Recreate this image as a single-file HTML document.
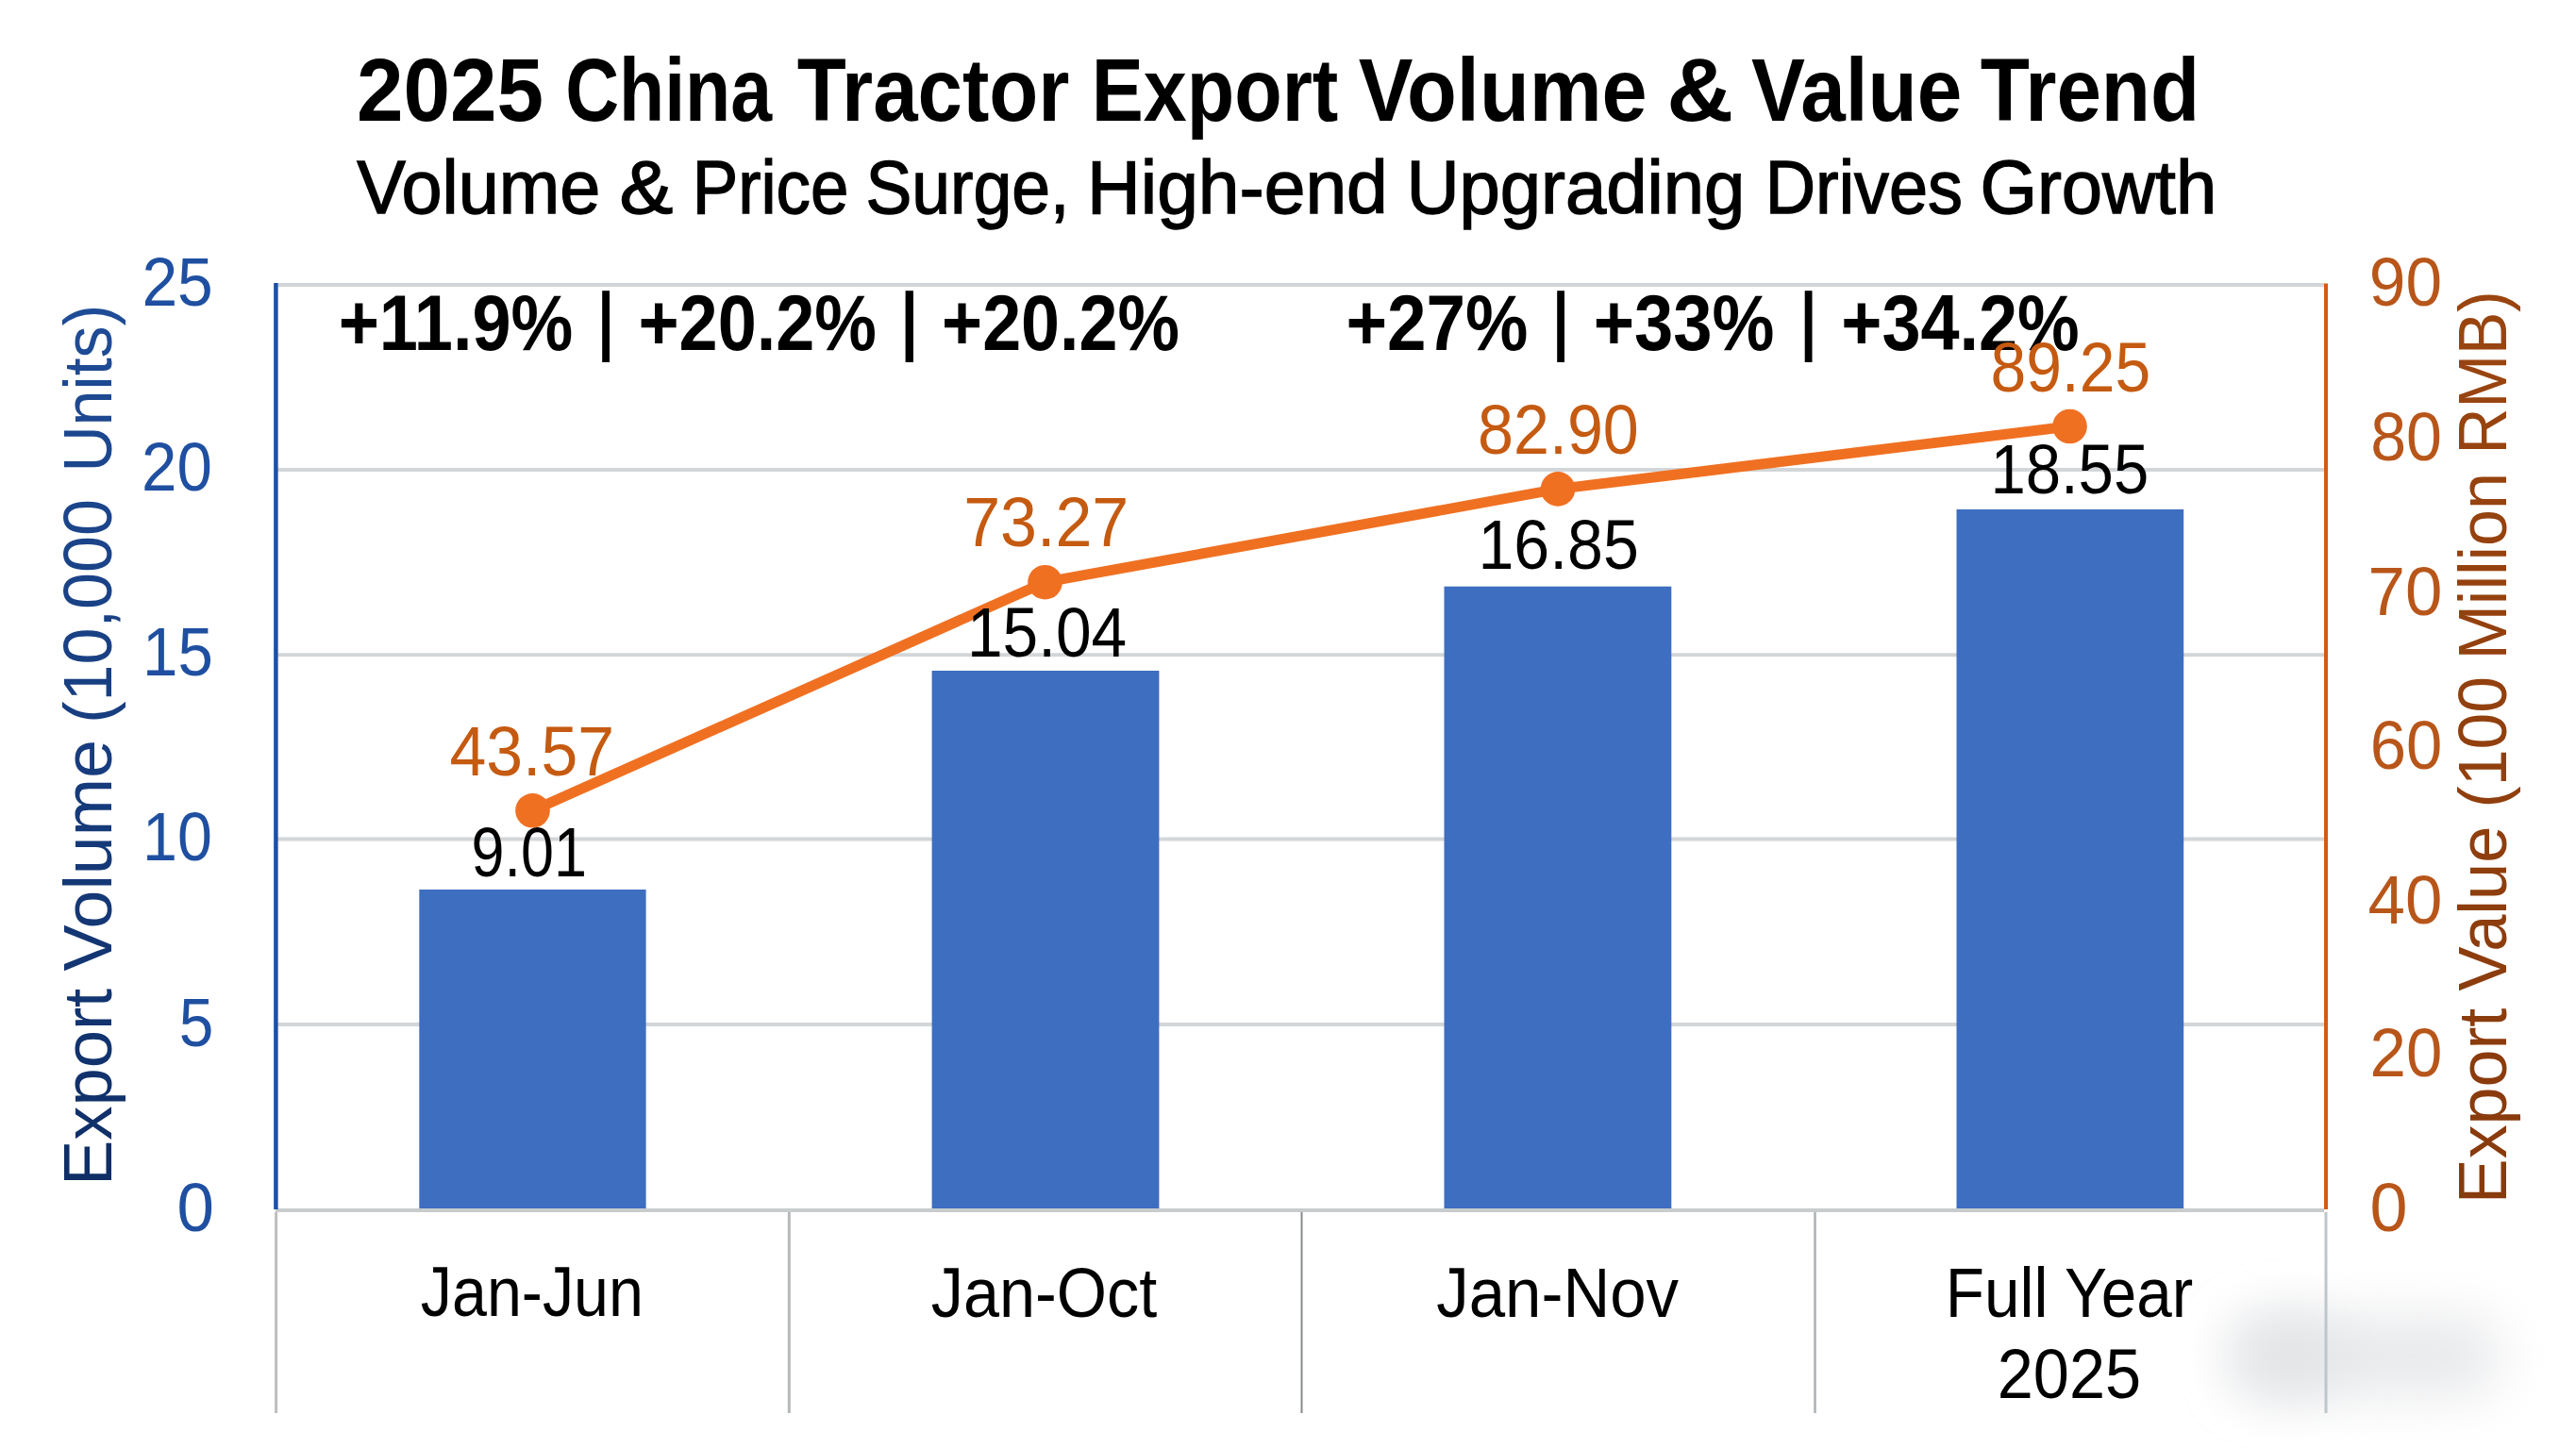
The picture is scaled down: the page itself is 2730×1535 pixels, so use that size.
<!DOCTYPE html>
<html><head><meta charset="utf-8">
<style>
html,body{margin:0;padding:0;background:#fff;}
body{width:2730px;height:1535px;overflow:hidden;position:relative;font-family:"Liberation Sans",sans-serif;}
svg{position:absolute;left:0;top:0;}
text{font-family:"Liberation Sans",sans-serif;}
</style></head><body>
<svg width="2730" height="1535" viewBox="0 0 2730 1535">
<defs>
  <linearGradient id="lt" gradientUnits="userSpaceOnUse" x1="-1250" y1="0" x2="-327" y2="0">
    <stop offset="0" stop-color="#0f2e66"/><stop offset="1" stop-color="#1f4c96"/>
  </linearGradient>
  <linearGradient id="rt" gradientUnits="userSpaceOnUse" x1="-1270" y1="0" x2="-312" y2="0">
    <stop offset="0" stop-color="#883a0c"/><stop offset="1" stop-color="#9a4510"/>
  </linearGradient>
  <radialGradient id="shadow" cx="0.5" cy="0.5" r="0.5">
    <stop offset="0" stop-color="#d8dadc" stop-opacity="1"/>
    <stop offset="0.6" stop-color="#e4e6e8" stop-opacity="0.8"/>
    <stop offset="1" stop-color="#ffffff" stop-opacity="0"/>
  </radialGradient>
</defs>
<filter id="blur" x="-50%" y="-100%" width="200%" height="300%"><feGaussianBlur stdDeviation="28"/></filter>
<rect class="shape" x="2365" y="1395" width="285" height="85" rx="40" fill="#e8e9eb" filter="url(#blur)"/>
<ellipse class="shape" cx="2425" cy="1437" rx="55" ry="38" fill="#e2e4e6" filter="url(#blur)"/>
<g class="shape" stroke="#d3d6d9" stroke-width="4">
  <line x1="292" y1="302" x2="2463" y2="302"/>
  <line x1="292" y1="498" x2="2463" y2="498"/>
  <line x1="292" y1="694.3" x2="2463" y2="694.3"/>
  <line x1="292" y1="889.4" x2="2463" y2="889.4"/>
  <line x1="292" y1="1086" x2="2463" y2="1086"/>
</g>
<line class="shape" x1="292" y1="1283" x2="2463" y2="1283" stroke="#c8cccd" stroke-width="4"/>
<g class="shape">
  <line x1="292.6" y1="1285" x2="292.6" y2="1498" stroke="#bdbdbd" stroke-width="3"/>
  <line x1="836.3" y1="1285" x2="836.3" y2="1498" stroke="#b5b8b8" stroke-width="3"/>
  <line x1="1379.5" y1="1285" x2="1379.5" y2="1498" stroke="#868a8a" stroke-width="2"/>
  <line x1="1923.5" y1="1285" x2="1923.5" y2="1498" stroke="#aab2b5" stroke-width="2.5"/>
  <line x1="2465" y1="1285" x2="2465" y2="1498" stroke="#bcc6cc" stroke-width="3"/>
</g>
<line class="shape" x1="292.4" y1="300" x2="292.4" y2="1282" stroke="#1b50a8" stroke-width="4.5"/>
<line class="shape" x1="2465" y1="300.5" x2="2465" y2="1282" stroke="#d55a14" stroke-width="4"/>
<g class="shape" fill="#3d6ec0">
  <rect x="444.3" y="943" width="240.3" height="338"/>
  <rect x="987.6" y="711" width="240.8" height="570"/>
  <rect x="1530.5" y="621.7" width="240.8" height="659.3"/>
  <rect x="2073.5" y="540" width="240.7" height="741"/>
</g>
<g class="shape" fill="#000">
  <rect x="638.2" y="308.2" width="7.8" height="75.8"/>
  <rect x="959.6" y="308.2" width="8.3" height="75.8"/>
  <rect x="1650.2" y="308.2" width="7.8" height="75.8"/>
  <rect x="1912.7" y="308.2" width="7.8" height="75.8"/>
</g>
<polyline class="shape" points="564.5,859.3 1107.5,617.2 1651,518.4 2193.5,452" fill="none" stroke="#f07022" stroke-width="11" stroke-linejoin="round"/>
<g class="shape" fill="#f07022">
  <circle cx="564.5" cy="859.3" r="18.3"/>
  <circle cx="1107.5" cy="617.2" r="18.3"/>
  <circle cx="1651" cy="518.4" r="18.3"/>
  <circle cx="2193.5" cy="452" r="18.3"/>
</g>

<text id="tw0" x="378.0" y="127.7" font-size="94.5" font-weight="bold" fill="#000" textLength="198.1" lengthAdjust="spacingAndGlyphs">2025</text>
<text id="tw1" x="599.2" y="127.7" font-size="94.5" font-weight="bold" fill="#000" textLength="218.9" lengthAdjust="spacingAndGlyphs">China</text>
<text id="tw2" x="844.8" y="127.7" font-size="94.5" font-weight="bold" fill="#000" textLength="288.7" lengthAdjust="spacingAndGlyphs">Tractor</text>
<text id="tw3" x="1156.8" y="127.7" font-size="94.5" font-weight="bold" fill="#000" textLength="261.5" lengthAdjust="spacingAndGlyphs">Export</text>
<text id="tw4" x="1439.8" y="127.7" font-size="94.5" font-weight="bold" fill="#000" textLength="305.9" lengthAdjust="spacingAndGlyphs">Volume</text>
<text id="tw5" x="1766.2" y="127.7" font-size="94.5" font-weight="bold" fill="#000" textLength="70.9" lengthAdjust="spacingAndGlyphs">&amp;</text>
<text id="tw6" x="1856.0" y="127.7" font-size="94.5" font-weight="bold" fill="#000" textLength="223.3" lengthAdjust="spacingAndGlyphs">Value</text>
<text id="tw7" x="2098.8" y="127.7" font-size="94.5" font-weight="bold" fill="#000" textLength="232.3" lengthAdjust="spacingAndGlyphs">Trend</text>
<text id="sw0" x="378.2" y="226.3" font-size="79.5" stroke="#000" stroke-width="1.4" fill="#000" textLength="258.2" lengthAdjust="spacingAndGlyphs">Volume</text>
<text id="sw1" x="656.4" y="226.3" font-size="79.5" stroke="#000" stroke-width="1.4" fill="#000" textLength="56.8" lengthAdjust="spacingAndGlyphs">&amp;</text>
<text id="sw2" x="733.8" y="226.3" font-size="79.5" stroke="#000" stroke-width="1.4" fill="#000" textLength="165.6" lengthAdjust="spacingAndGlyphs">Price</text>
<text id="sw3" x="917.4" y="226.3" font-size="79.5" stroke="#000" stroke-width="1.4" fill="#000" textLength="216.0" lengthAdjust="spacingAndGlyphs">Surge,</text>
<text id="sw4" x="1152.0" y="226.3" font-size="79.5" stroke="#000" stroke-width="1.4" fill="#000" textLength="318.8" lengthAdjust="spacingAndGlyphs">High-end</text>
<text id="sw5" x="1490.4" y="226.3" font-size="79.5" stroke="#000" stroke-width="1.4" fill="#000" textLength="359.0" lengthAdjust="spacingAndGlyphs">Upgrading</text>
<text id="sw6" x="1870.8" y="226.3" font-size="79.5" stroke="#000" stroke-width="1.4" fill="#000" textLength="209.2" lengthAdjust="spacingAndGlyphs">Drives</text>
<text id="sw7" x="2098.4" y="226.3" font-size="79.5" stroke="#000" stroke-width="1.4" fill="#000" textLength="250.8" lengthAdjust="spacingAndGlyphs">Growth</text>
<text id="gw0" x="358.7" y="370.7" font-size="83" font-weight="bold" fill="#000" textLength="248.6" lengthAdjust="spacingAndGlyphs">+11.9%</text>
<text id="gw2" x="676.5" y="370.7" font-size="83" font-weight="bold" fill="#000" textLength="252.4" lengthAdjust="spacingAndGlyphs">+20.2%</text>
<text id="gw4" x="998.1" y="370.7" font-size="83" font-weight="bold" fill="#000" textLength="252.0" lengthAdjust="spacingAndGlyphs">+20.2%</text>
<text id="gw5" x="1426.5" y="370.7" font-size="83" font-weight="bold" fill="#000" textLength="193.0" lengthAdjust="spacingAndGlyphs">+27%</text>
<text id="gw7" x="1688.7" y="370.7" font-size="83" font-weight="bold" fill="#000" textLength="191.8" lengthAdjust="spacingAndGlyphs">+33%</text>
<text id="gw9" x="1951.3" y="370.7" font-size="83" font-weight="bold" fill="#000" textLength="252.4" lengthAdjust="spacingAndGlyphs">+34.2%</text>
<text id="lw0" transform="rotate(-90)" x="-1257.0" y="118.0" font-size="72" fill="url(#lt)" textLength="209.1" lengthAdjust="spacingAndGlyphs">Export</text>
<text id="lw1" transform="rotate(-90)" x="-1029.4" y="118.0" font-size="72" fill="url(#lt)" textLength="245.3" lengthAdjust="spacingAndGlyphs">Volume</text>
<text id="lw2" transform="rotate(-90)" x="-766.8" y="118.0" font-size="72" fill="url(#lt)" textLength="237.9" lengthAdjust="spacingAndGlyphs">(10,000</text>
<text id="lw3" transform="rotate(-90)" x="-500.6" y="118.0" font-size="72" fill="url(#lt)" textLength="177.9" lengthAdjust="spacingAndGlyphs">Units)</text>
<text id="rw0" transform="rotate(-90)" x="-1276.2" y="2656.0" font-size="72" fill="url(#rt)" textLength="207.5" lengthAdjust="spacingAndGlyphs">Export</text>
<text id="rw1" transform="rotate(-90)" x="-1050.6" y="2656.0" font-size="72" fill="url(#rt)" textLength="174.9" lengthAdjust="spacingAndGlyphs">Value</text>
<text id="rw2" transform="rotate(-90)" x="-856.6" y="2656.0" font-size="72" fill="url(#rt)" textLength="139.7" lengthAdjust="spacingAndGlyphs">(100</text>
<text id="rw3" transform="rotate(-90)" x="-699.6" y="2656.0" font-size="72" fill="url(#rt)" textLength="198.7" lengthAdjust="spacingAndGlyphs">Million</text>
<text id="rw4" transform="rotate(-90)" x="-481.6" y="2656.0" font-size="72" fill="url(#rt)" textLength="173.3" lengthAdjust="spacingAndGlyphs">RMB)</text>
<text id="cJun" x="445.8" y="1394.7" font-size="75" fill="#000" textLength="236.1" lengthAdjust="spacingAndGlyphs">Jan-Jun</text>
<text id="cOct" x="986.8" y="1395.6" font-size="75" fill="#000" textLength="239.5" lengthAdjust="spacingAndGlyphs">Jan-Oct</text>
<text id="cNov" x="1522.2" y="1395.6" font-size="75" fill="#000" textLength="256.9" lengthAdjust="spacingAndGlyphs">Jan-Nov</text>
<text id="cFY" x="2061.8" y="1395.6" font-size="75" fill="#000" textLength="262.5" lengthAdjust="spacingAndGlyphs">Full Year</text>
<text id="c2025" x="2116.8" y="1482.0" font-size="75" fill="#000" textLength="152.3" lengthAdjust="spacingAndGlyphs">2025</text>
<text id="l25" x="150.4" y="323.6" font-size="73" fill="#1f4fa0" textLength="75.4" lengthAdjust="spacingAndGlyphs">25</text>
<text id="l20" x="150.0" y="520.2" font-size="73" fill="#1f4fa0" textLength="74.8" lengthAdjust="spacingAndGlyphs">20</text>
<text id="l15" x="151.0" y="716.0" font-size="73" fill="#1f4fa0" textLength="74.8" lengthAdjust="spacingAndGlyphs">15</text>
<text id="l10" x="151.0" y="911.8" font-size="73" fill="#1f4fa0" textLength="73.8" lengthAdjust="spacingAndGlyphs">10</text>
<text id="l5" x="189.8" y="1109.0" font-size="73" fill="#1f4fa0" textLength="36.6" lengthAdjust="spacingAndGlyphs">5</text>
<text id="l0" x="187.6" y="1304.5" font-size="73" fill="#1f4fa0" textLength="39.4" lengthAdjust="spacingAndGlyphs">0</text>
<text id="r90" x="2510.8" y="323.5" font-size="73" fill="#b8561a" textLength="77.2" lengthAdjust="spacingAndGlyphs">90</text>
<text id="r80" x="2512.2" y="488.0" font-size="73" fill="#b8561a" textLength="75.8" lengthAdjust="spacingAndGlyphs">80</text>
<text id="r70" x="2509.6" y="652.0" font-size="73" fill="#b8561a" textLength="78.8" lengthAdjust="spacingAndGlyphs">70</text>
<text id="r60" x="2511.8" y="814.8" font-size="73" fill="#b8561a" textLength="76.6" lengthAdjust="spacingAndGlyphs">60</text>
<text id="r40" x="2509.6" y="978.5" font-size="73" fill="#b8561a" textLength="78.8" lengthAdjust="spacingAndGlyphs">40</text>
<text id="r20" x="2511.6" y="1141.0" font-size="73" fill="#b8561a" textLength="76.8" lengthAdjust="spacingAndGlyphs">20</text>
<text id="r0" x="2511.6" y="1304.5" font-size="73" fill="#b8561a" textLength="40.0" lengthAdjust="spacingAndGlyphs">0</text>
<text id="d4357" x="476.4" y="822.3" font-size="74" fill="#c55a11" textLength="174.6" lengthAdjust="spacingAndGlyphs">43.57</text>
<text id="d901" x="499.6" y="928.7" font-size="74" fill="#000" textLength="122.4" lengthAdjust="spacingAndGlyphs">9.01</text>
<text id="d7327" x="1021.2" y="579.1" font-size="74" fill="#c55a11" textLength="175.0" lengthAdjust="spacingAndGlyphs">73.27</text>
<text id="d1504" x="1025.0" y="696.0" font-size="74" fill="#000" textLength="169.2" lengthAdjust="spacingAndGlyphs">15.04</text>
<text id="d8290" x="1566.0" y="481.0" font-size="74" fill="#c55a11" textLength="170.8" lengthAdjust="spacingAndGlyphs">82.90</text>
<text id="d1685" x="1566.4" y="603.3" font-size="74" fill="#000" textLength="170.4" lengthAdjust="spacingAndGlyphs">16.85</text>
<text id="d8925" x="2109.4" y="415.0" font-size="74" fill="#c55a11" textLength="169.8" lengthAdjust="spacingAndGlyphs">89.25</text>
<text id="d1855" x="2109.4" y="522.5" font-size="74" fill="#000" textLength="167.8" lengthAdjust="spacingAndGlyphs">18.55</text>
</svg>
</body></html>
